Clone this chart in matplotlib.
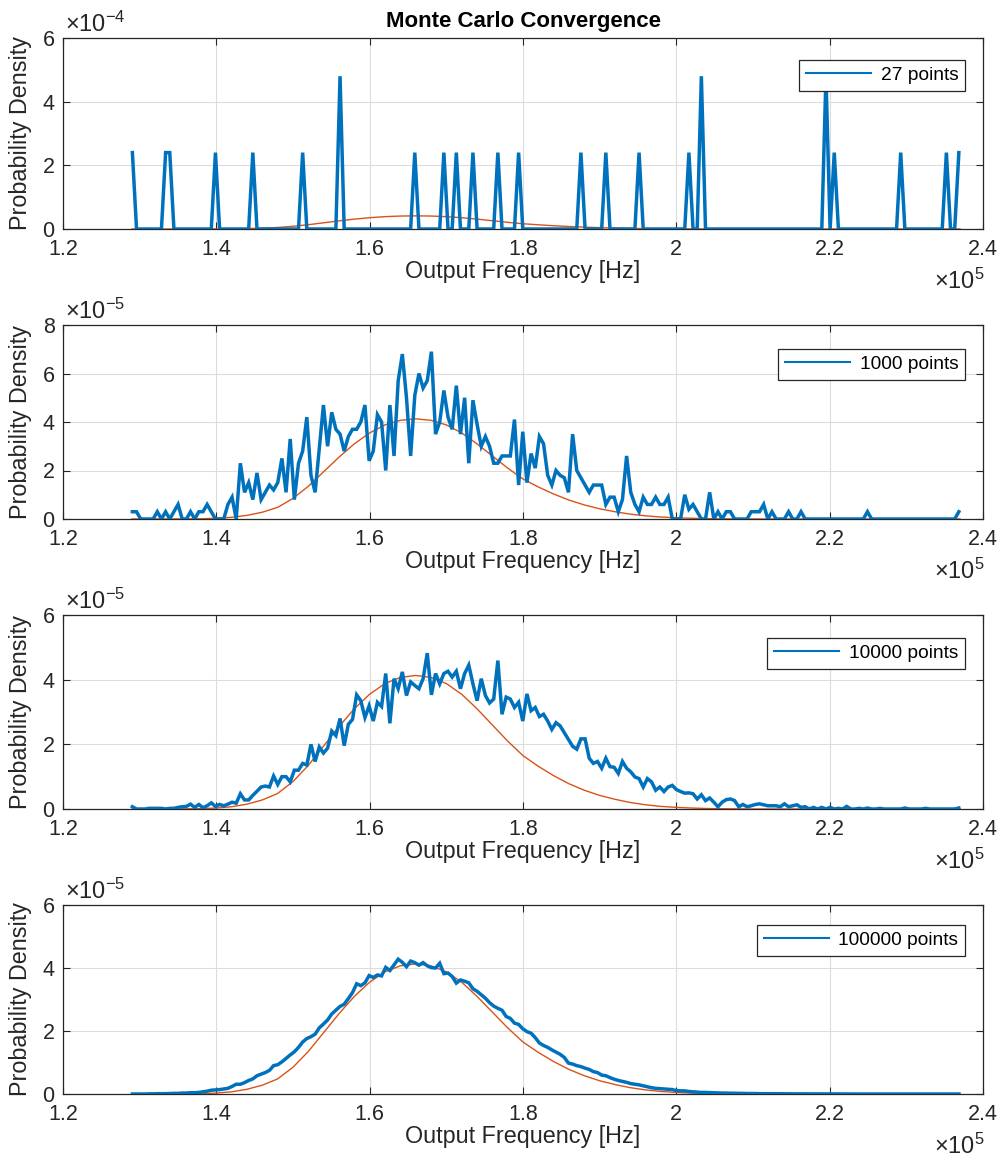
import numpy as np
import matplotlib
matplotlib.use("Agg")
import matplotlib.pyplot as plt
from matplotlib.ticker import FuncFormatter

plt.rcParams['font.family'] = ['Liberation Sans', 'DejaVu Sans']
plt.rcParams['mathtext.fontset'] = 'custom'
plt.rcParams['mathtext.rm'] = 'Liberation Sans'
plt.rcParams['mathtext.it'] = 'Liberation Sans:italic'
plt.rcParams['mathtext.bf'] = 'Liberation Sans:bold'

# ---------------- data ----------------
# histogram bin centres (Hz): 200 bins from first to last centre
bin_first = 1.2905e5
bin_last = 2.3685e5
n_bins = 200

# 27 points: non-empty bins (bin index, density in 1e-4)
p1_bins = [0, 8, 9, 20, 29, 41, 50, 68, 75, 78, 82, 88, 93, 108, 114, 122,
           134, 137, 167, 169, 185, 196, 199]
p1_vals = [2.4, 2.4, 2.4, 2.4, 2.4, 2.4, 4.8, 2.4, 2.4, 2.4, 2.4, 2.4, 2.4,
           2.4, 2.4, 2.4, 2.4, 4.8, 4.8, 2.4, 2.4, 2.4, 2.4]

# 1000 points (density in 1e-5)
p2_vals = [0.3, 0.3, 0, 0, 0, 0, 0.3, 0, 0.3, 0,
           0.3, 0.6, 0, 0, 0.3, 0, 0.3, 0.3, 0.6, 0.3,
           0, 0, 0, 0.6, 0.9, 0, 2.3, 1.1, 1.5, 0.8,
           1.9, 0.8, 1.1, 1.4, 1.2, 1.5, 2.5, 1.1, 3.3, 0.8,
           2.3, 2.8, 4.2, 1.8, 1.1, 2.9, 4.7, 3.0, 4.4, 3.7,
           3.5, 2.8, 3.4, 3.7, 3.7, 4.0, 4.7, 2.4, 2.8, 4.3,
           4.0, 2.0, 4.7, 2.6, 5.7, 6.8, 5.0, 2.6, 5.1, 6.0,
           5.4, 5.7, 6.9, 3.5, 4.0, 5.3, 4.2, 3.7, 5.5, 3.5,
           5.0, 2.3, 4.9, 3.9, 3.0, 3.4, 3.0, 2.3, 2.3, 2.6,
           2.6, 2.6, 4.1, 1.4, 3.6, 1.5, 2.7, 2.1, 3.4, 3.1,
           1.8, 1.4, 2.0, 1.8, 1.7, 1.1, 3.5, 2.0, 1.7, 1.4,
           1.1, 1.4, 1.4, 1.4, 0.6, 0.9, 0.9, 0.3, 0.8, 2.6,
           1.1, 0.6, 0.3, 0.9, 0.6, 0.6, 0.9, 0.6, 0.6, 0.9,
           0, 0, 0, 1.0, 0.4, 0.6, 0.3, 0, 0, 1.1,
           0, 0.3, 0, 0.3, 0.3, 0, 0, 0, 0, 0.3,
           0.3, 0.3, 0.6, 0, 0.3, 0, 0, 0, 0.3, 0,
           0, 0.3, 0, 0, 0, 0, 0, 0, 0, 0,
           0, 0, 0, 0, 0, 0, 0, 0.3, 0, 0,
           0, 0, 0, 0, 0, 0, 0, 0, 0, 0,
           0, 0, 0, 0, 0, 0, 0, 0, 0, 0.3]

# 10000 points (density in 1e-5)
p3_vals = [0.07, 0, 0, 0, 0.02, 0.02, 0.02, 0.02, 0, 0.02,
           0.02, 0.05, 0.07, 0.08, 0.15, 0.05, 0.14, 0.04, 0.10, 0.19,
           0.08, 0.14, 0.10, 0.15, 0.21, 0.18, 0.47, 0.28, 0.28, 0.42,
           0.55, 0.68, 0.71, 0.68, 1.02, 0.76, 1.00, 1.00, 0.84, 1.20,
           1.20, 1.41, 1.36, 2.00, 1.47, 1.92, 1.73, 1.88, 2.41, 2.27,
           2.80, 1.96, 2.62, 2.77, 3.53, 3.35, 2.83, 3.19, 2.72, 3.30,
           3.17, 4.19, 2.65, 4.03, 3.72, 4.24, 3.51, 3.93, 3.82, 3.72,
           4.03, 4.82, 3.53, 4.19, 3.87, 4.19, 4.26, 4.08, 4.26, 3.72,
           4.19, 4.45, 3.87, 3.35, 4.03, 3.51, 3.28, 3.40, 4.59, 2.93,
           3.46, 3.40, 3.14, 3.30, 2.72, 3.56, 3.04, 3.14, 2.86, 2.93,
           2.72, 2.46, 2.67, 2.57, 2.36, 2.15, 1.94, 1.85, 2.17, 2.17,
           1.57, 1.41, 1.47, 1.26, 1.57, 1.31, 1.29, 1.10, 1.47, 1.26,
           1.15, 0.99, 0.94, 0.68, 0.94, 0.84, 0.58, 0.68, 0.54, 0.68,
           0.73, 0.60, 0.54, 0.49, 0.50, 0.47, 0.31, 0.44, 0.26, 0.34,
           0.21, 0.07, 0.21, 0.29, 0.31, 0.26, 0.07, 0.14, 0.07, 0.10,
           0.14, 0.16, 0.13, 0.10, 0.10, 0.10, 0.07, 0.16, 0.07, 0.10,
           0.13, 0.05, 0.07, 0, 0.05, 0, 0.05, 0, 0.05, 0,
           0.02, 0, 0.08, 0, 0, 0.02, 0, 0.03, 0, 0,
           0.02, 0, 0, 0, 0, 0, 0.03, 0, 0, 0,
           0, 0.02, 0, 0, 0, 0, 0, 0, 0, 0.03]

# 100000 points (density in 1e-5)
p4_vals = [0, 0, 0, 0, 0.005, 0.005, 0.01, 0.01, 0.01, 0.015,
           0.02, 0.02, 0.03, 0.03, 0.04, 0.04, 0.05, 0.07, 0.09, 0.12,
           0.13, 0.14, 0.16, 0.18, 0.24, 0.31, 0.31, 0.36, 0.43, 0.48,
           0.58, 0.63, 0.68, 0.75, 0.90, 0.93, 1.02, 1.13, 1.24, 1.34,
           1.48, 1.65, 1.76, 1.82, 1.90, 2.10, 2.22, 2.35, 2.54, 2.66,
           2.78, 2.85, 3.03, 3.22, 3.50, 3.44, 3.53, 3.76, 3.70, 3.78,
           3.75, 4.02, 3.92, 4.10, 4.28, 4.18, 4.04, 4.22, 4.17, 4.09,
           4.17, 4.07, 4.01, 4.00, 4.15, 3.82, 3.84, 3.73, 3.52, 3.62,
           3.58, 3.53, 3.34, 3.26, 3.15, 3.04, 2.90, 2.79, 2.72, 2.66,
           2.46, 2.40, 2.25, 2.21, 2.07, 1.98, 1.93, 1.79, 1.62, 1.54,
           1.48, 1.40, 1.33, 1.26, 1.16, 0.98, 0.95, 0.90, 0.87, 0.82,
           0.78, 0.71, 0.68, 0.60, 0.58, 0.52, 0.47, 0.43, 0.40, 0.37,
           0.33, 0.31, 0.29, 0.26, 0.23, 0.20, 0.18, 0.17, 0.16, 0.15,
           0.14, 0.11, 0.10, 0.10, 0.08, 0.07, 0.06, 0.05, 0.05, 0.045,
           0.04, 0.035, 0.03, 0.03, 0.025, 0.025, 0.02, 0.02, 0.015, 0.015,
           0.015, 0.01, 0.01, 0.01, 0.01, 0.008, 0.008, 0.006, 0.006, 0.005,
           0.005, 0.005, 0.004, 0.004, 0.003, 0.003, 0.003, 0.002, 0.002, 0.002,
           0.002, 0.001, 0.001, 0.001, 0.001, 0, 0, 0, 0, 0,
           0, 0, 0, 0, 0, 0, 0, 0, 0, 0,
           0, 0, 0, 0, 0, 0, 0, 0, 0, 0]

# theoretical pdf (x in 1e5 Hz, density in 1e-5)
pdf_x = [1.29, 1.34, 1.36, 1.38, 1.40, 1.42, 1.44, 1.46, 1.48, 1.50,
         1.52, 1.54, 1.56, 1.58, 1.60, 1.62, 1.64, 1.66, 1.68, 1.70,
         1.72, 1.74, 1.76, 1.78, 1.80, 1.82, 1.84, 1.86, 1.88, 1.90,
         1.92, 1.94, 1.96, 1.98, 2.00, 2.02, 2.04, 2.06, 2.10, 2.37]
pdf_y = [0, 0.002, 0.005, 0.01, 0.03, 0.07, 0.15, 0.28, 0.48, 0.85,
         1.35, 1.95, 2.55, 3.10, 3.55, 3.88, 4.07, 4.13, 4.07, 3.88,
         3.55, 3.10, 2.60, 2.10, 1.65, 1.32, 1.03, 0.78, 0.58, 0.42,
         0.30, 0.20, 0.13, 0.08, 0.05, 0.03, 0.015, 0.008, 0.0, 0.0]

labels = ['27 points', '1000 points', '10000 points', '100000 points']
y_max = [6e-4, 8e-5, 6e-5, 6e-5]
y_step = [2e-4, 2e-5, 2e-5, 2e-5]
y_exp = [-4, -5, -5, -5]
x_ticks = [1.2e5, 1.4e5, 1.6e5, 1.8e5, 2.0e5, 2.2e5, 2.4e5]

# ---------------- build series ----------------
centers = np.linspace(bin_first, bin_last, n_bins)
p1 = np.zeros(n_bins)
for b, v in zip(p1_bins, p1_vals):
    p1[b] = v * 1e-4
series = [p1, np.array(p2_vals) * 1e-5, np.array(p3_vals) * 1e-5,
          np.array(p4_vals) * 1e-5]
px = np.array(pdf_x) * 1e5
py = np.array(pdf_y) * 1e-5

# ---------------- figure ----------------
W, H = 1005, 1160
fig = plt.figure(figsize=(W / 100, H / 100), dpi=100)
tops = [38, 325, 615, 905]
bots = [229, 519, 809, 1094]
left_px, right_px = 63, 983
leg_top = [60, 349, 638, 925]

blue = '#0072BD'
red = '#D95319'
dark = '#262626'

for k in range(4):
    h = bots[k] - tops[k]
    ax = fig.add_axes([left_px / W, 1 - bots[k] / H, (right_px - left_px) / W, h / H])
    ax.plot(px, py, color=red, lw=1.0, zorder=2)
    ax.plot(centers, series[k], color=blue, lw=2.5, zorder=3,
            solid_joinstyle='miter', label=labels[k])
    ax.set_xlim(1.2e5, 2.4e5)
    ax.set_ylim(0, y_max[k])
    ax.set_xticks(x_ticks)
    ax.set_yticks(np.arange(0, y_max[k] * 1.0001, y_step[k]))
    ax.xaxis.set_major_formatter(FuncFormatter(lambda v, p: f"{v / 1e5:g}"))
    e = y_exp[k]
    ax.yaxis.set_major_formatter(FuncFormatter(lambda v, p, e=e: f"{round(v / 10 ** e, 6):g}"))
    ax.grid(True, color='#dcdcdc', lw=0.8)
    ax.set_axisbelow(True)
    ax.tick_params(direction='in', top=True, right=True, length=5, width=0.8,
                   colors=dark, labelsize=15.5)
    ax.tick_params(axis='x', pad=7)
    ax.tick_params(axis='y', pad=6)
    for s in ax.spines.values():
        s.set_color(dark)
        s.set_linewidth(0.9)
    ax.set_xlabel('Output Frequency [Hz]', fontsize=16.8, color=dark)
    ax.set_ylabel('Probability Density', fontsize=16.8, color=dark)
    ax.xaxis.set_label_coords(0.5, -31.0 / h)
    ax.yaxis.set_label_coords(-31.0 / 920, 0.5)
    ax.text(0.0025, 1.004, r'$\times10^{%d}$' % e, transform=ax.transAxes,
            ha='left', va='bottom', fontsize=17, color=dark)
    ax.annotate(r'$\times10^{5}$', xy=(1, 0), xycoords='axes fraction',
                xytext=(2, -40), textcoords='offset pixels', ha='right', va='top',
                fontsize=17, color=dark)
    leg = ax.legend(loc='upper right',
                    bbox_to_anchor=(1 - 18 / 920, 1 - (leg_top[k] - tops[k]) / h),
                    borderaxespad=0, fancybox=False, framealpha=1,
                    edgecolor=dark, fontsize=13.8, handlelength=3.4,
                    borderpad=0.35, handletextpad=0.5)
    leg.get_frame().set_linewidth(0.9)
    for ln in leg.get_lines():
        ln.set_linewidth(1.5)
    if k == 0:
        ax.set_title('Monte Carlo Convergence', fontsize=16, fontweight='bold',
                     color='black', pad=8)

fig.savefig('out.png', dpi=100)
